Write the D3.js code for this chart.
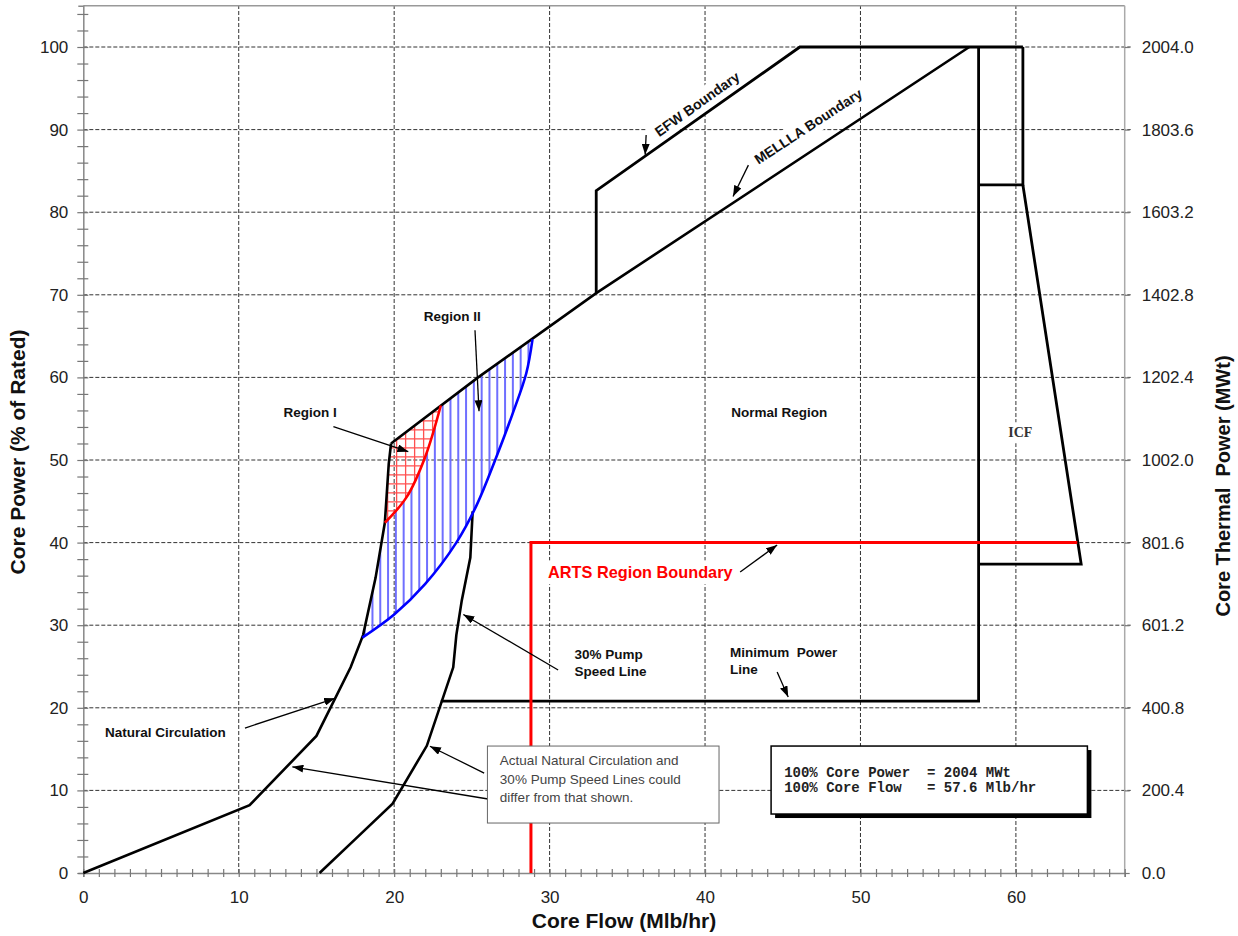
<!DOCTYPE html>
<html><head><meta charset="utf-8">
<script src="https://cdn.jsdelivr.net/npm/d3@7"></script>
<style>
body{margin:0;background:#fff}
svg{display:block;font-family:"Liberation Sans",Arial,sans-serif}
</style>
</head><body>
<svg id="chart" width="1238" height="936"></svg>
<script>
// ---------- data ----------
const flowTicks = [0,10,20,30,40,50,60];
const powerTicks = [0,10,20,30,40,50,60,70,80,90,100];
const mwtTickLabels = ["0.0","200.4","400.8","601.2","801.6","1002.0","1202.4","1402.8","1603.2","1803.6","2004.0"];

const natCircFlow  = [0, 10.7, 15.0, 17.2, 18.0, 18.8, 19.4, 19.65, 19.8];
const natCircPower = [0, 8.2, 16.6, 24.9, 28.8, 35.7, 42.4, 49.5, 52.0];

const pumpFlow  = [15.2, 17.5, 19.9, 22.1, 23.8, 24.0, 24.35, 24.9, 25.05];
const pumpPower = [0, 4.1, 8.4, 15.4, 24.9, 28.8, 33.0, 38.2, 43.8];

const melllaFlow  = [19.8, 25.4, 33.0, 57.0];
const melllaPower = [52.0, 60.0, 70.2, 100];

const efwFlow  = [33.0, 33.0, 46.1, 60.45];
const efwPower = [70.2, 82.6, 100, 100];

const minPowerFlow  = [23.0, 57.6, 57.6];
const minPowerPower = [20.8, 20.8, 100];

const icfUpperFlow  = [60.45, 60.45, 57.6];
const icfUpperPower = [100, 83.3, 83.3];
const icfLowerFlow  = [60.45, 64.2, 57.6];
const icfLowerPower = [83.3, 37.4, 37.4];

const artsFlow  = [28.8, 28.8, 63.95];
const artsPower = [0, 40, 40];

const region1Flow  = [19.4, 20.8, 22.0, 23.0];   // red boundary
const region1Power = [42.4, 45.5, 50.4, 56.6];

const region2Flow  = [17.95, 20.0, 22.0, 24.0, 25.3, 26.5, 27.6, 28.5, 28.9]; // blue boundary
const region2Power = [28.5, 31.3, 35.0, 40.0, 44.5, 50.0, 55.5, 60.5, 64.6];

// ---------- setup ----------
const SANS = '"Liberation Sans", Arial, sans-serif';
const svg = d3.select("#chart");
const x = d3.scaleLinear([0, 67], [83.3, 1124.7]);
const y = d3.scaleLinear([0, 105], [873, 5.7]);
const yMW = d3.scaleLinear([0, 2004 * 1.05], [873, 5.7]);
const zip = (a, b) => a.map((v, i) => [v, b[i]]);
const lin = d3.line().x(d => x(d[0])).y(d => y(d[1]));
const cur = d3.line().x(d => x(d[0])).y(d => y(d[1])).curve(d3.curveCatmullRom.alpha(0.5));

const defs = svg.append("defs");
defs.append("marker").attr("id", "ah").attr("viewBox", "0 0 11 8")
  .attr("refX", 11).attr("refY", 4).attr("markerWidth", 11).attr("markerHeight", 8)
  .attr("markerUnits", "userSpaceOnUse").attr("orient", "auto")
  .append("path").attr("d", "M0,0L11,4L0,8z").attr("fill", "#000");

const [x0, x1] = x.range();
const [y0, y1] = y.range();

// ---------- grid ----------
const grid = svg.append("g").attr("stroke", "#333").attr("stroke-width", 1).attr("stroke-dasharray", "4,2");
grid.selectAll(".hg").data(powerTicks.filter(d => d > 0)).join("line")
  .attr("x1", x0).attr("x2", x1 + 6).attr("y1", d => y(d)).attr("y2", d => y(d));
grid.selectAll(".vg").data(flowTicks.filter(d => d > 0)).join("line")
  .attr("y1", y0).attr("y2", y1).attr("x1", d => x(d)).attr("x2", d => x(d));

// frame (top / right)
svg.append("line").attr("x1", x0).attr("x2", x1).attr("y1", y1).attr("y2", y1).attr("stroke", "#999").attr("stroke-width", 1.5);
svg.append("line").attr("x1", x1).attr("x2", x1).attr("y1", y1).attr("y2", y0).attr("stroke", "#aaa").attr("stroke-width", 1.5);

// ---------- axes ----------
const axL = svg.append("g").attr("transform", `translate(${x0},0)`)
  .call(d3.axisLeft(y).tickValues(d3.range(0, 105, 2)).tickSize(5).tickPadding(10)
    .tickFormat(d => (d % 10 === 0 && d <= 100) ? d : ""));
axL.select(".domain").attr("stroke", "#888").attr("stroke-width", 1.5);
axL.selectAll(".tick line").attr("x1", -6).attr("x2", 5).attr("stroke", "#777").attr("stroke-width", 1.2);
axL.selectAll(".tick text").attr("font-size", 17).attr("fill", "#222").style("font-family", SANS);

const axB = svg.append("g").attr("transform", `translate(0,${y0})`)
  .call(d3.axisBottom(x).tickValues(d3.range(0, 68, 1)).tickSize(4).tickPadding(14)
    .tickFormat(d => flowTicks.includes(d) ? d : ""));
axB.select(".domain").attr("stroke", "#888").attr("stroke-width", 1.5);
axB.selectAll(".tick line").attr("y1", -4).attr("y2", 4).attr("stroke", "#777").attr("stroke-width", 1.2);
axB.selectAll(".tick text").attr("font-size", 17).attr("fill", "#222").style("font-family", SANS);

const axR = svg.append("g").attr("transform", `translate(${x1},0)`)
  .call(d3.axisRight(yMW).tickValues(mwtTickLabels.map(Number)).tickSize(5).tickPadding(12)
    .tickFormat((d, i) => mwtTickLabels[i]));
axR.select(".domain").remove();
axR.selectAll(".tick line").attr("stroke", "#777").attr("stroke-width", 1.2);
axR.selectAll(".tick text").attr("font-size", 17).attr("fill", "#222").style("font-family", SANS);

// axis titles
svg.append("text").attr("x", 624).attr("y", 928).attr("text-anchor", "middle")
  .attr("font-size", 21).attr("font-weight", "bold").attr("fill", "#111").text("Core Flow (Mlb/hr)");
svg.append("text").attr("transform", "translate(25,452) rotate(-90)").attr("text-anchor", "middle")
  .attr("font-size", 21).attr("font-weight", "bold").attr("fill", "#111").text("Core Power (% of Rated)");
svg.append("text").attr("transform", "translate(1230,486) rotate(-90)").attr("text-anchor", "middle")
  .attr("font-size", 20).attr("font-weight", "bold").attr("fill", "#111").style("white-space", "pre")
  .text("Core Thermal  Power (MWt)");

// ---------- layers ----------
const bgLayer = svg.append("g");
const lineLayer = svg.append("g");
const textLayer = svg.append("g");

function label(opts) {
  const tr = `translate(${x(opts.fx)},${y(opts.py)}) rotate(${opts.rot || 0})`;
  const t = textLayer.append("g").attr("transform", tr).append("text")
    .attr("text-anchor", opts.anchor || "middle")
    .attr("dominant-baseline", "central")
    .attr("font-size", opts.size || 13.5).attr("font-weight", opts.weight || "bold")
    .attr("fill", opts.color || "#111").style("white-space", "pre")
    .style("font-family", opts.family || SANS).text(opts.text);
  if (opts.bg) {
    const b = t.node().getBBox();
    bgLayer.append("g").attr("transform", tr)
      .append("rect").attr("x", b.x - opts.bg).attr("y", b.y - 3).attr("width", b.width + 2 * opts.bg)
      .attr("height", b.height + 6).attr("fill", "#fff");
  }
}

// ---------- regions (hatching) ----------
const red = zip(region1Flow, region1Power);
const blue = zip(region2Flow, region2Power);
const nat = zip(natCircFlow, natCircPower);
const mel = zip(melllaFlow, melllaPower);
const redStart = red[0], redEnd = red[red.length - 1];
const blueStart = blue[0], blueEnd = blue[blue.length - 1];

const r2d = lin([blueStart, ...nat.filter(p => p[1] > blueStart[1] && p[1] < redStart[1]), redStart])
  + cur(red).replace(/^M/, "L")
  + lin([redEnd, ...mel.filter(p => p[0] > redEnd[0] && p[0] < blueEnd[0]), blueEnd]).replace(/^M/, "L")
  + cur(blue.slice().reverse()).replace(/^M/, "L") + "Z";
const r1d = lin([redStart, ...nat.filter(p => p[1] > redStart[1]), ...mel.filter(p => p[0] < redEnd[0]), redEnd])
  + cur(red.slice().reverse()).replace(/^M/, "L") + "Z";

defs.append("clipPath").attr("id", "cr2").append("path").attr("d", r2d);
defs.append("clipPath").attr("id", "cr1").append("path").attr("d", r1d);

const hb = lineLayer.append("g").attr("clip-path", "url(#cr2)");
hb.selectAll("line").data(d3.range(x(17.6), x(29.2), 7.8)).join("line")
  .attr("x1", d => d).attr("x2", d => d).attr("y1", y(25)).attr("y2", y(67))
  .attr("stroke", "#6f6fff").attr("stroke-width", 2);

const hr = lineLayer.append("g").attr("clip-path", "url(#cr1)");
hr.selectAll(".v").data(d3.range(x(19.0), x(23.5), 9)).join("line").attr("class", "v")
  .attr("x1", d => d).attr("x2", d => d).attr("y1", y(41)).attr("y2", y(58))
  .attr("stroke", "#ff5050").attr("stroke-width", 1.3);
hr.selectAll(".h").data(d3.range(y(58), y(41), 9)).join("line").attr("class", "h")
  .attr("y1", d => d).attr("y2", d => d).attr("x1", x(19)).attr("x2", x(23.5))
  .attr("stroke", "#ff5050").attr("stroke-width", 1.3);

// ---------- boundary lines ----------
const blk = (xs, ys, w) => lineLayer.append("path").attr("d", lin(zip(xs, ys)))
  .attr("fill", "none").attr("stroke", "#000").attr("stroke-width", w || 2.8).attr("stroke-linejoin", "miter");
blk(natCircFlow, natCircPower, 2.6);
blk(pumpFlow, pumpPower, 2.6);
blk(melllaFlow, melllaPower, 2.6);
blk(efwFlow, efwPower, 2.8);
blk(minPowerFlow, minPowerPower, 2.8);
blk(icfUpperFlow, icfUpperPower, 2.8);
blk(icfLowerFlow, icfLowerPower, 2.8);

lineLayer.append("path").attr("d", lin(zip(artsFlow, artsPower))).attr("fill", "none")
  .attr("stroke", "#ff0000").attr("stroke-width", 3);
lineLayer.append("path").attr("d", cur(red)).attr("fill", "none").attr("stroke", "#ff0000").attr("stroke-width", 2.6);
lineLayer.append("path").attr("d", cur(blue)).attr("fill", "none").attr("stroke", "#0000ff").attr("stroke-width", 2.6);

// ---------- annotations ----------
label({text: "EFW Boundary", fx: 39.49, py: 93.1, rot: -35.5, size: 14, bg: 6});
label({text: "MELLLA Boundary", fx: 46.64, py: 90.4, rot: -33.2, size: 14, bg: 6});
label({text: "Region II", fx: 23.73, py: 67.4});
label({text: "Region I", fx: 14.59, py: 55.7});
label({text: "Normal Region", fx: 44.77, py: 55.8});
label({text: "ICF", fx: 60.28, py: 53.3, size: 14, family: '"Liberation Serif", "Times New Roman", serif', color: "#333", bg: 3});
label({text: "Natural Circulation", fx: 1.4, py: 16.95, anchor: "start", bg: 12});
label({text: "30% Pump", fx: 31.6, py: 26.5, anchor: "start"});
label({text: "Speed Line", fx: 31.6, py: 24.4, anchor: "start"});
label({text: "Minimum  Power", fx: 41.6, py: 26.7, anchor: "start"});
label({text: "Line", fx: 41.6, py: 24.6, anchor: "start"});
label({text: "ARTS Region Boundary", fx: 29.9, py: 36.4, anchor: "start", size: 16.3, color: "#ff0000", bg: 4});

const arrows = [
  [36.21, 89.35, 36.15, 86.95],
  [42.79, 85.7, 41.8, 81.9],
  [25.2, 65.7, 25.46, 55.9],
  [16.09, 54.03, 20.91, 51.0],
  [10.4, 17.55, 16.2, 21.15],
  [26.04, 8.96, 13.45, 12.85],
  [25.79, 12.1, 22.3, 15.35],
  [30.55, 24.58, 24.45, 31.3],
  [44.64, 24.33, 45.35, 21.3],
  [42.26, 36.44, 44.64, 39.7]
];
textLayer.selectAll(".arr").data(arrows).join("line").attr("class", "arr")
  .attr("x1", d => x(d[0])).attr("y1", d => y(d[1])).attr("x2", d => x(d[2])).attr("y2", d => y(d[3]))
  .attr("stroke", "#000").attr("stroke-width", 1.3).attr("marker-end", "url(#ah)");

// note box
const note = textLayer.append("g");
note.append("rect").attr("x", x(26.0)).attr("y", y(15.37)).attr("width", x(40.9) - x(26.0))
  .attr("height", y(6.05) - y(15.37)).attr("fill", "#fff").attr("stroke", "#666").attr("stroke-width", 1);
["Actual Natural Circulation and", "30% Pump Speed Lines could", "differ from that shown."].forEach((s, i) => {
  note.append("text").attr("x", x(26.8)).attr("y", y(13.56 - i * 2.18)).attr("dominant-baseline", "central")
    .attr("font-size", 13.5).attr("fill", "#444").style("font-family", SANS).text(s);
});

// constants box
const MONO = '"Liberation Mono", "Courier New", monospace';
const cb = textLayer.append("g");
cb.append("rect").attr("x", x(44.25) + 4).attr("y", y(15.37) + 4).attr("width", x(64.6) - x(44.25))
  .attr("height", y(7.14) - y(15.37)).attr("fill", "#000");
cb.append("rect").attr("x", x(44.25)).attr("y", y(15.37)).attr("width", x(64.6) - x(44.25))
  .attr("height", y(7.14) - y(15.37)).attr("fill", "#fff").attr("stroke", "#000").attr("stroke-width", 1.5);
["100% Core Power  = 2004 MWt", "100% Core Flow   = 57.6 Mlb/hr"].forEach((s, i) => {
  cb.append("text").attr("x", x(45.09)).attr("y", y(12.1 - i * 1.8)).attr("dominant-baseline", "central")
    .style("font-family", MONO).attr("font-weight", "bold")
    .attr("font-size", 14).attr("fill", "#222").style("white-space", "pre").text(s);
});
</script>
</body></html>
